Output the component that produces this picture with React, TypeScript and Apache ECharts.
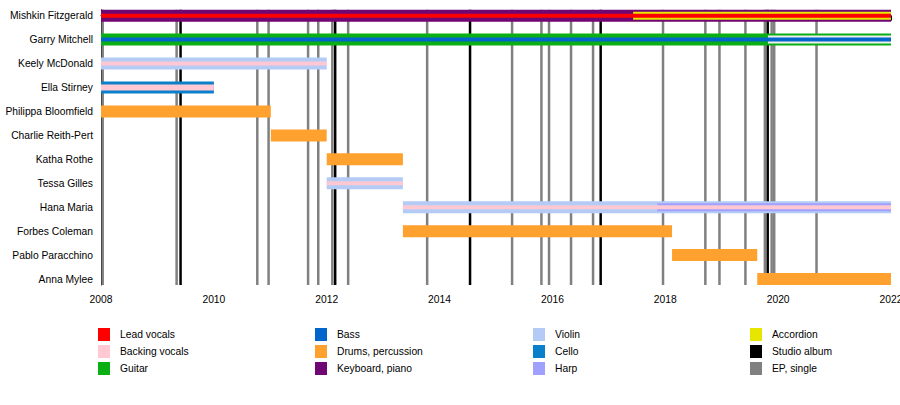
import React, { useEffect, useRef } from 'react';
import * as echarts from 'echarts';

// ---------- data ----------
const members = [
  'Mishkin Fitzgerald',
  'Garry Mitchell',
  'Keely McDonald',
  'Ella Stirney',
  'Philippa Bloomfield',
  'Charlie Reith-Pert',
  'Katha Rothe',
  'Tessa Gilles',
  'Hana Maria',
  'Forbes Coleman',
  'Pablo Paracchino',
  'Anna Mylee',
];

const yearMin = 2008;
const yearMax = 2022;
const yearStep = 2;

const studioAlbums = [2009.41, 2012.15, 2014.54, 2016.855, 2019.815];
const epSingles = [
  2008.03, 2009.34, 2010.77, 2010.97, 2011.67, 2011.85, 2012.1, 2012.38, 2013.78,
  2015.285, 2015.805, 2015.94, 2016.33, 2016.72, 2017.96, 2018.71, 2018.96,
  2019.42, 2019.765, 2019.885, 2019.93, 2020.68,
];

// [memberIndex, part, start, end, layer]
const stints: [number, string, number, number, string][] = [
  [0, 'Keyboard, piano', 2008, 2022, 'outer'],
  [0, 'Accordion', 2017.43, 2022, 'mid'],
  [0, 'Lead vocals', 2008, 2022, 'inner'],
  [1, 'Guitar', 2008, 2022, 'outer'],
  [1, 'Separator', 2019.82, 2022, 'mid'],
  [1, 'Bass', 2008, 2022, 'inner'],
  [2, 'Violin', 2008, 2012.0, 'outer'],
  [2, 'Backing vocals', 2008, 2012.0, 'inner'],
  [3, 'Cello', 2008, 2010.0, 'outer'],
  [3, 'Backing vocals', 2008, 2010.0, 'wide'],
  [4, 'Drums, percussion', 2008, 2011.01, 'outer'],
  [5, 'Drums, percussion', 2011.01, 2012.0, 'outer'],
  [6, 'Drums, percussion', 2012.0, 2013.35, 'outer'],
  [7, 'Violin', 2012.0, 2013.35, 'outer'],
  [7, 'Backing vocals', 2012.0, 2013.35, 'inner'],
  [8, 'Violin', 2013.35, 2022, 'outer'],
  [8, 'Harp', 2017.86, 2022, 'mid'],
  [8, 'Backing vocals', 2013.35, 2022, 'inner'],
  [9, 'Drums, percussion', 2013.35, 2018.12, 'outer'],
  [10, 'Drums, percussion', 2018.12, 2019.63, 'outer'],
  [11, 'Drums, percussion', 2019.63, 2022, 'outer'],
];

const legendColumns = [
  ['Lead vocals', 'Backing vocals', 'Guitar'],
  ['Bass', 'Drums, percussion', 'Keyboard, piano'],
  ['Violin', 'Cello', 'Harp'],
  ['Accordion', 'Studio album', 'EP, single'],
];

// ---------- styles ----------
const colors: Record<string, string> = {
  'Lead vocals': '#ff0000',
  'Backing vocals': '#ffc8d3',
  Guitar: '#0aaf14',
  Bass: '#0066cc',
  'Drums, percussion': '#ffa12e',
  'Keyboard, piano': '#700574',
  Violin: '#b4cbf5',
  Cello: '#0a7fca',
  Harp: '#a0a0ff',
  Accordion: '#e6e600',
  'Studio album': '#000000',
  'EP, single': '#808080',
  Separator: '#eef0ee',
};

const layerHeights: Record<string, number> = { outer: 12, mid: 8, inner: 4, wide: 6 };
const layerCodes = ['outer', 'mid', 'inner', 'wide'];

const barOrder = [
  'Keyboard, piano',
  'Guitar',
  'Violin',
  'Cello',
  'Drums, percussion',
  'Accordion',
  'Harp',
  'Separator',
  'Lead vocals',
  'Bass',
  'Backing vocals',
];

const FONT = 'Liberation Sans, Arial, Helvetica, sans-serif';
const FS = 10.3;

function buildOption() {
  const lineSeries = [
    { name: 'EP, single', values: epSingles },
    { name: 'Studio album', values: studioAlbums },
  ].map((s, k) => ({
    type: 'custom',
    name: s.name,
    coordinateSystem: 'cartesian2d',
    z: 1 + k,
    silent: true,
    itemStyle: { color: colors[s.name] },
    encode: { x: 0 },
    data: s.values.map((v) => [v]),
    renderItem: (params: any, api: any) => {
      const x = api.coord([api.value(0), 0])[0];
      const cs = params.coordSys;
      return {
        type: 'line',
        shape: { x1: x, y1: cs.y, x2: x, y2: cs.y + cs.height },
        style: { stroke: colors[s.name], lineWidth: 2.5 },
      };
    },
  }));

  const barSeries = barOrder.map((name, k) => ({
    type: 'custom',
    name,
    coordinateSystem: 'cartesian2d',
    z: 5 + k,
    silent: true,
    itemStyle: { color: colors[name] },
    encode: { x: [0, 1], y: 2 },
    data: stints
      .filter((s) => s[1] === name)
      .map((s) => [s[2], s[3], s[0], layerCodes.indexOf(s[4])]),
    renderItem: (params: any, api: any) => {
      const p0 = api.coord([api.value(0), api.value(2)]);
      const p1 = api.coord([api.value(1), api.value(2)]);
      const h = layerHeights[layerCodes[api.value(3)]];
      return {
        type: 'rect',
        shape: { x: p0[0], y: p0[1] - h / 2, width: p1[0] - p0[0], height: h },
        style: { fill: colors[name] },
      };
    },
  }));

  const legendLefts = [98, 315, 533, 750];
  const legends = legendColumns.map((col, i) => ({
    show: true,
    orient: 'vertical',
    left: legendLefts[i],
    top: 328,
    padding: 0,
    itemWidth: 12,
    itemHeight: 13,
    itemGap: 4,
    icon: 'rect',
    selectedMode: false,
    data: col,
    textStyle: {
      fontFamily: FONT,
      fontSize: FS,
      color: '#000',
      padding: [0, 0, 0, 5],
    },
  }));

  return {
    animation: false,
    backgroundColor: '#ffffff',
    grid: {
      left: 101,
      right: 9,
      top: 9.7,
      bottom: 120,
      containLabel: false,
      outerBoundsMode: 'none',
    },
    legend: legends,
    xAxis: {
      type: 'value',
      min: yearMin,
      max: yearMax,
      interval: yearStep,
      axisLine: { show: true, lineStyle: { color: '#000', width: 1 } },
      axisTick: { show: true, length: 5, lineStyle: { color: '#000' } },
      minorTick: { show: true, splitNumber: 2, length: 3, lineStyle: { color: '#000' } },
      splitLine: { show: false },
      axisLabel: {
        fontFamily: FONT,
        fontSize: FS,
        color: '#000',
        margin: 9,
        formatter: (v: number) => String(v),
        showMaxLabel: true,
        showMinLabel: true,
      },
    },
    yAxis: {
      type: 'value',
      inverse: true,
      min: -0.25,
      max: members.length - 0.75,
      axisLine: { show: true, lineStyle: { color: '#000', width: 1 } },
      axisTick: { show: false },
      splitLine: { show: false },
      axisLabel: {
        customValues: members.map((_, i) => i),
        formatter: (v: number) => members[Math.round(v)] ?? '',
        fontFamily: FONT,
        fontSize: FS,
        color: '#000',
        margin: 8,
      },
    },
    series: [...lineSeries, ...barSeries],
  };
}

export default function App() {
  const ref = useRef<HTMLDivElement>(null);
  useEffect(() => {
    if (!ref.current) return;
    const chart = echarts.init(ref.current, undefined, { renderer: 'svg' });
    chart.setOption(buildOption() as any);
    return () => chart.dispose();
  }, []);
  return (
    <div
      ref={ref}
      style={{ position: 'fixed', left: 0, top: 0, width: 900, height: 405, background: '#fff' }}
    />
  );
}
